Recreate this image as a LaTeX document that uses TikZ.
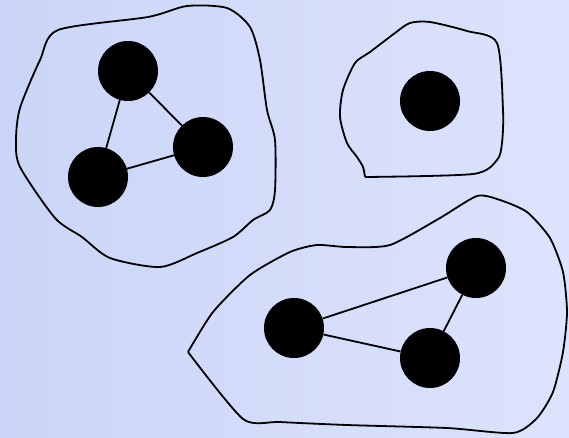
\documentclass[tikz,border=0pt]{standalone}
\usepackage{tikz}
\definecolor{bgleft}{RGB}{202,213,247}
\definecolor{bgright}{RGB}{221,227,252}

\begin{document}
\begin{tikzpicture}[x=1pt, y=-1pt,
  vtx/.style={circle, fill=black, inner sep=0pt, minimum size=60pt},
  blob/.style={black, line width=1.8pt, line join=round},
  link/.style={black, line width=1.8pt}]
  % background
  \shade[left color=bgleft, right color=bgright] (0,0) rectangle (569,437);
  \useasboundingbox (0,0) rectangle (569,437);
  % cluster outlines
  \draw[blob] plot[smooth cycle, tension=0.45] coordinates {
    (58,30) (148,17) (187,6) (227,8) (250,27) (260,60) (267,110)
    (275,140) (275,190) (270,210) (253,220) (233,237) (197,253)
    (160,267) (110,258) (82,237) (55,218) (20,167) (16,140)
    (20,108) (40,60)};
  \draw[blob] plot[smooth, tension=0.45] coordinates {
    (365,177) (473,174) (497,160) (502,143) (503,110) (497,43)
    (467,31) (430,22) (410,23) (395,33) (370,52) (355,63)
    (343,90) (340,117) (347,143) (357,157) (363,167) (365,177)};
  \draw[blob] plot[smooth, tension=0.4] coordinates {
    (188,352) (243,419) (280,422) (347,425) (447,428) (513,433)
    (537,418) (553,392) (563,352) (567,312) (563,272) (550,238)
    (527,212) (500,200) (477,196) (440,218) (390,245) (347,247)
    (317,245) (290,252) (250,275) (213,312) (188,352)};
  % cluster 1
  \node[vtx] (a) at (128,71) {};
  \node[vtx] (b) at (203,147) {};
  \node[vtx] (c) at (98,177) {};
  % cluster 2
  \node[vtx] (d) at (430,101) {};
  % cluster 3
  \node[vtx] (e) at (476,268) {};
  \node[vtx] (f) at (294,328) {};
  \node[vtx] (g) at (430,358) {};
  % edges
  \draw[link] (a) -- (b);
  \draw[link] (a) -- (c);
  \draw[link] (c) -- (b);
  \draw[link] (f) -- (e);
  \draw[link] (f) -- (g);
  \draw[link] (g) -- (e);
\end{tikzpicture}
\end{document}
